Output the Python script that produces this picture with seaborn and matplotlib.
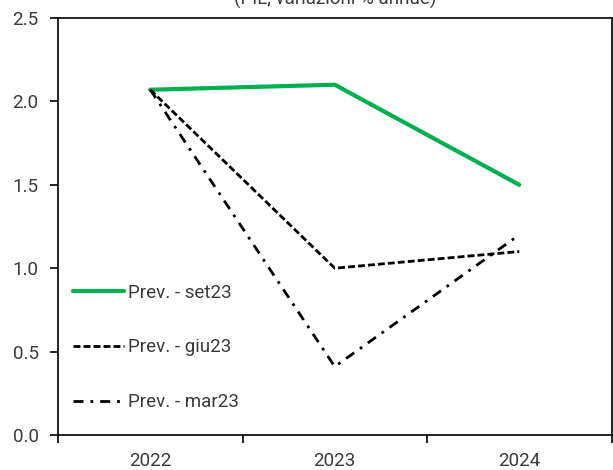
import matplotlib
matplotlib.use("Agg")
import matplotlib.pyplot as plt
import seaborn as sns
import pandas as pd

years = ["2022", "2023", "2024"]
prev_set23 = [2.07, 2.10, 1.50]
prev_giu23 = [2.07, 1.00, 1.10]
prev_mar23 = [2.07, 0.41, 1.20]
series_names = ["Prev. - set23", "Prev. - giu23", "Prev. - mar23"]
y_ticks = [0.0, 0.5, 1.0, 1.5, 2.0, 2.5]
title = "(PIL, variazioni % annue)"

rows = []
for name, vals in zip(series_names, [prev_set23, prev_giu23, prev_mar23]):
    for i, (yr, v) in enumerate(zip(years, vals)):
        rows.append({"pos": i, "anno": yr, "valore": v, "serie": name})
df = pd.DataFrame(rows)

sns.set_style("white")
plt.rcParams["font.family"] = ["Roboto", "DejaVu Sans"]

FS = 13.5
TXT = "#3a3a3a"

fig = plt.figure(figsize=(6.13, 4.70), dpi=100)
ax = fig.add_axes([58 / 613, 1 - 435 / 470, (611.5 - 58) / 613, (435 - 18) / 470])

palette = {"Prev. - set23": "#00B050", "Prev. - giu23": "black", "Prev. - mar23": "black"}
dashes = {"Prev. - set23": "", "Prev. - giu23": (2.5, 1.1), "Prev. - mar23": (3.6, 2.5, 1, 2.5)}
widths = {"Prev. - set23": 3.0, "Prev. - giu23": 2.0, "Prev. - mar23": 2.0}

for name in series_names:
    sub = df[df["serie"] == name]
    sns.lineplot(data=sub, x="pos", y="valore", ax=ax, color=palette[name],
                 linewidth=widths[name], label=name, sort=False)
    line = ax.get_lines()[-1]
    if dashes[name]:
        line.set_dashes(dashes[name])
    line.set_solid_capstyle("round")

ax.set_xlim(-0.5, 2.5)
ax.set_ylim(0, 2.5)
ax.set_yticks(y_ticks)
ax.set_yticklabels([f"{t:.1f}" for t in y_ticks])
ax.set_xticks([-0.5, 0.5, 1.5, 2.5])
ax.set_xticklabels([])
ax.set_xticks([0, 1, 2], minor=True)
ax.set_xticklabels(years, minor=True)
ax.tick_params(axis="x", which="minor", length=0, pad=12)
ax.tick_params(axis="x", which="major", direction="out", length=6, width=1.2, color="black", bottom=True)
ax.tick_params(axis="y", direction="out", length=6, width=1.2, color="black", left=True, pad=8)
ax.tick_params(axis="both", which="both", labelsize=FS, labelcolor=TXT)
ax.set_xlabel("")
ax.set_ylabel("")
for sp in ax.spines.values():
    sp.set_color("black")
    sp.set_linewidth(1.2)
    sp.set_visible(True)

leg = ax.legend(loc="upper left", bbox_to_anchor=(0.027, 0.363), frameon=False,
                fontsize=FS, labelspacing=1.96, handlelength=2.7,
                handletextpad=0.25, borderpad=0, borderaxespad=0)
for t in leg.get_texts():
    t.set_color(TXT)

fig.text(335 / 613, 1 - 5 / 470, title, ha="center", va="baseline",
         fontsize=FS, color=TXT)

fig.savefig("out.png", dpi=100)
